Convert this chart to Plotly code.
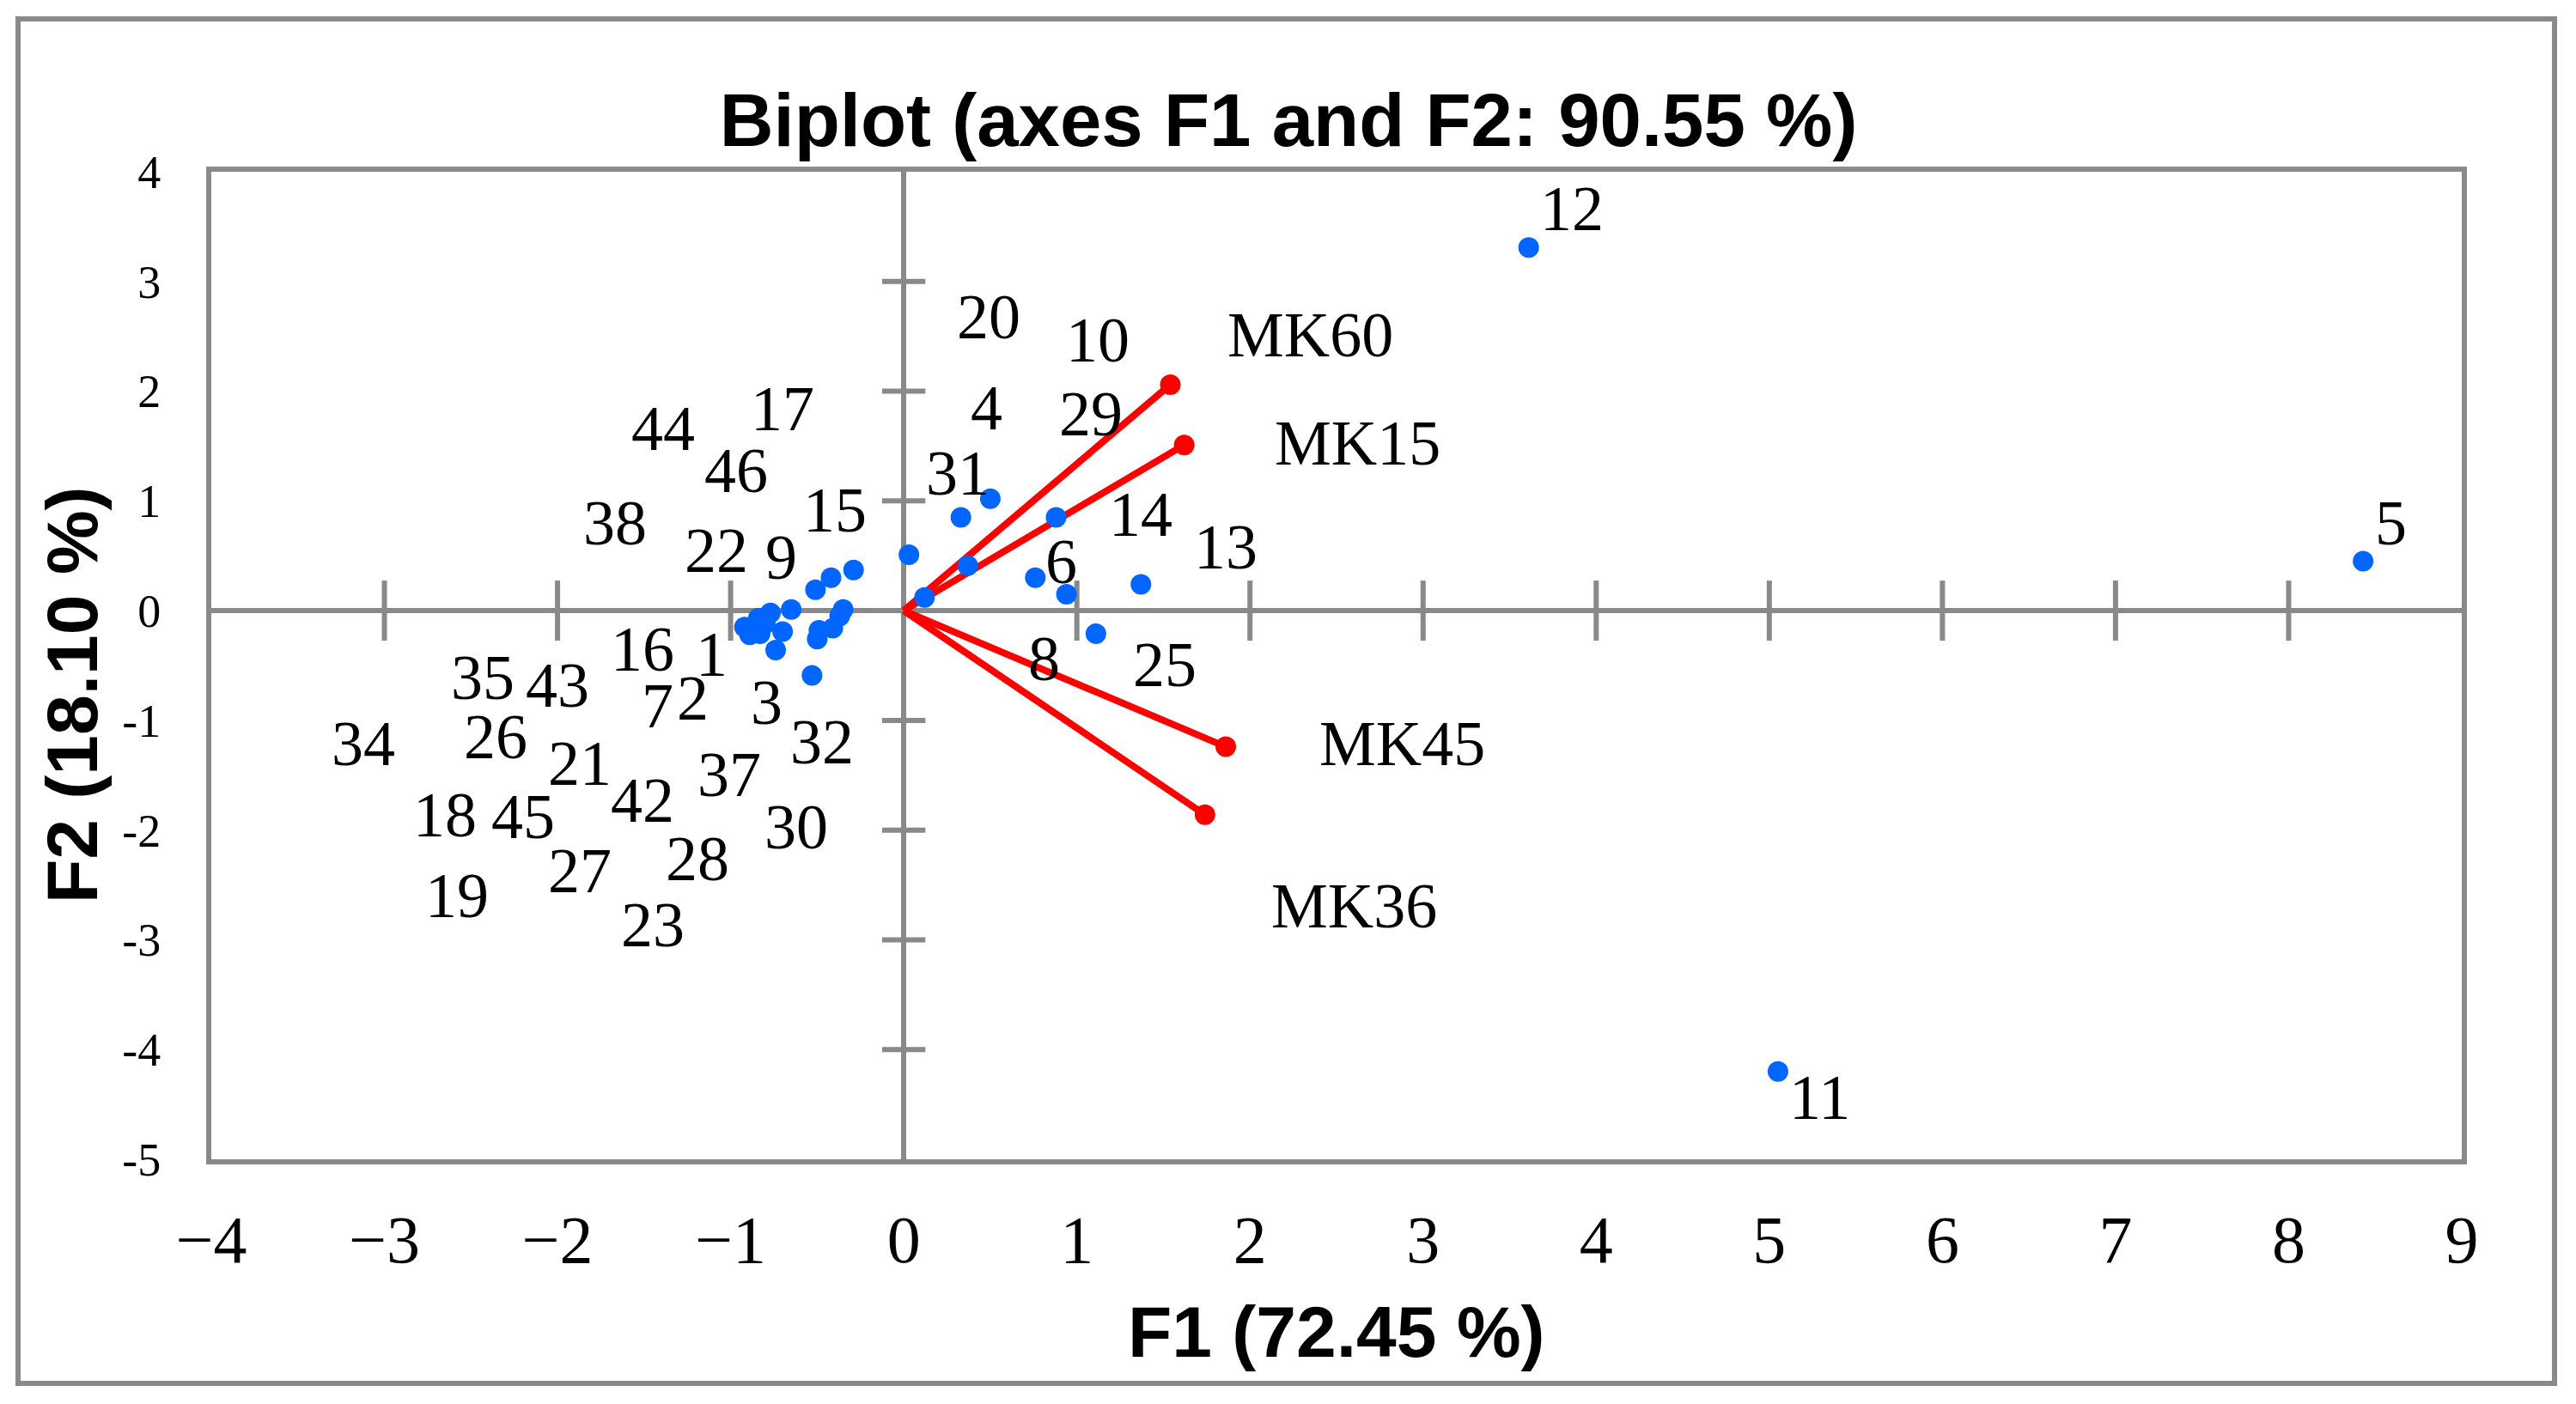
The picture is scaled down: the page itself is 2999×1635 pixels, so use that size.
import plotly.graph_objects as go

# observations (blue dots)
obs_f1 = [3.61, 8.43, 5.05,
          0.03, 0.33, 0.50, 0.88, 0.37, 0.12, 0.76, 0.94, 1.37, 1.11,
          -0.29, -0.42, -0.51, -0.65, -0.35, -0.37, -0.41, -0.49, -0.50, -0.53,
          -0.74, -0.77, -0.70, -0.92, -0.86, -0.84, -0.83, -0.80, -0.89]
obs_f2 = [3.31, 0.45, -4.20,
          0.51, 0.85, 1.02, 0.85, 0.41, 0.12, 0.30, 0.15, 0.24, -0.21,
          0.37, 0.30, 0.19, 0.01, 0.01, -0.05, -0.16, -0.18, -0.26, -0.59,
          -0.36, -0.02, -0.19, -0.15, -0.19, -0.07, -0.21, -0.12, -0.22]

# observation labels (as placed in the original chart)
lab_text = ["12", "5", "11", "20", "10", "4", "29", "31", "14", "13", "6", "8", "25",
            "44", "17", "46", "38", "15", "22", "9", "16", "1", "35", "43", "7", "2", "3",
            "34", "26", "32", "21", "37", "42", "18", "45", "30", "27", "28", "19", "23"]
lab_f1 = [3.86, 8.59, 5.29, 0.49, 1.12, 0.48, 1.08, 0.31, 1.37, 1.86, 0.91, 0.81, 1.51,
          -1.39, -0.70, -0.97, -1.67, -0.40, -1.08, -0.71, -1.51, -1.11, -2.43, -2.00, -1.42, -1.22, -0.79,
          -3.12, -2.36, -0.47, -1.87, -1.01, -1.51, -2.65, -2.20, -0.62, -1.87, -1.19, -2.58, -1.45]
lab_f2 = [3.66, 0.80, -4.44, 2.68, 2.47, 1.85, 1.79, 1.25, 0.88, 0.58, 0.45, -0.44, -0.49,
          1.66, 1.84, 1.28, 0.80, 0.92, 0.55, 0.49, -0.35, -0.40, -0.61, -0.68, -0.87, -0.80, -0.84,
          -1.21, -1.15, -1.20, -1.39, -1.49, -1.73, -1.86, -1.88, -1.97, -2.37, -2.26, -2.60, -2.86]

# variables (red vectors)
var_names = ["MK60", "MK15", "MK45", "MK36"]
var_f1 = [1.54, 1.62, 1.86, 1.74]
var_f2 = [2.06, 1.51, -1.24, -1.86]
var_lab_f1 = [2.35, 2.62, 2.88, 2.60]
var_lab_f2 = [2.51, 1.53, -1.21, -2.69]

x_ticks = [-4, -3, -2, -1, 0, 1, 2, 3, 4, 5, 6, 7, 8, 9]
x_ticktext = ["\u22124", "\u22123", "\u22122", "\u22121", "0", "1", "2", "3", "4", "5", "6", "7", "8", "9"]
y_ticks = [-5, -4, -3, -2, -1, 0, 1, 2, 3, 4]
y_ticktext = ["-5", "-4", "-3", "-2", "-1", "0", "1", "2", "3", "4"]

GRAY = "#898989"
OFF = 8  # page body margin
W, H = 2999 - OFF, 1635 - OFF
L, R, T, B = 246 - OFF, 133, 200 - OFF, 285
pw, ph = W - L - R, H - T - B


def px_x(p):
    return (p - OFF - L) / pw


def px_y(p):
    return ((H - B) - (p - OFF)) / ph


fig = go.Figure()

# cross ticks on the centre axes
inner_x = [v for v in x_ticks if v not in (0, x_ticks[0], x_ticks[-1])]
inner_y = [v for v in y_ticks if v not in (0, y_ticks[0], y_ticks[-1])]
fig.add_trace(go.Scatter(x=inner_x, y=[0] * len(inner_x), mode="markers",
                         marker=dict(symbol="line-ns", size=50, line=dict(width=6, color=GRAY)),
                         hoverinfo="skip"))
fig.add_trace(go.Scatter(x=[0] * len(inner_y), y=inner_y, mode="markers",
                         marker=dict(symbol="line-ew", size=36, line=dict(width=6, color=GRAY)),
                         hoverinfo="skip"))

# red vectors
vx, vy = [], []
for a, b in zip(var_f1, var_f2):
    vx += [0, a, None]
    vy += [0, b, None]
fig.add_trace(go.Scatter(x=vx, y=vy, mode="lines", line=dict(color="#FF0000", width=8),
                         hoverinfo="skip"))
fig.add_trace(go.Scatter(x=var_f1, y=var_f2, mode="markers",
                         marker=dict(color="#FF0000", size=24), text=var_names))

# observations
fig.add_trace(go.Scatter(x=obs_f1, y=obs_f2, mode="markers",
                         marker=dict(color="#0066FF", size=24)))

# labels
for t, a, b in zip(lab_text + var_names, lab_f1 + var_lab_f1, lab_f2 + var_lab_f2):
    fig.add_annotation(x=a, y=b, text=t, showarrow=False, xanchor="center", yanchor="middle",
                       font=dict(family="Liberation Serif", size=74, color="black"))

fig.update_layout(
    width=W, height=H,
    margin=dict(l=L, r=R, t=T, b=B),
    paper_bgcolor="white", plot_bgcolor="white",
    showlegend=False,
    title=dict(text="<b>Biplot (axes F1 and F2: 90.55 %)</b>",
               x=(1500 - OFF) / W, xanchor="center", y=1 - (140 - OFF) / H, yanchor="middle",
               font=dict(family="Liberation Sans", size=87, color="black")),
    xaxis=dict(range=[-4, 9], tickvals=x_ticks, ticktext=x_ticktext,
               showgrid=False, ticks="", zeroline=True, zerolinecolor=GRAY, zerolinewidth=6,
               showline=True, mirror=True, linecolor=GRAY, linewidth=6,
               ticklabelstandoff=20,
               tickfont=dict(family="Liberation Serif", size=78, color="black")),
    yaxis=dict(range=[-5, 4], tickvals=y_ticks, ticktext=y_ticktext,
               showgrid=False, ticks="", zeroline=True, zerolinecolor=GRAY, zerolinewidth=6,
               showline=True, mirror=True, linecolor=GRAY, linewidth=6,
               ticklabelstandoff=42,
               tickfont=dict(family="Liberation Serif", size=54, color="black")),
)

fig.add_annotation(text="<b>F1 (72.45 %)</b>", xref="paper", yref="paper",
                   x=0.5, y=px_y(1551), xanchor="center", yanchor="middle",
                   showarrow=False, font=dict(family="Liberation Sans", size=84, color="black"))
fig.add_annotation(text="<b>F2 (18.10 %)</b>", xref="paper", yref="paper",
                   x=px_x(84), y=px_y(809), xanchor="center", yanchor="middle",
                   textangle=-90, showarrow=False,
                   font=dict(family="Liberation Sans", size=84, color="black"))

# outer frame
fig.add_shape(type="rect", xref="paper", yref="paper",
              x0=px_x(21), x1=px_x(2974), y0=px_y(1611), y1=px_y(22),
              line=dict(color=GRAY, width=6), layer="below")

fig.write_html("out.html")
